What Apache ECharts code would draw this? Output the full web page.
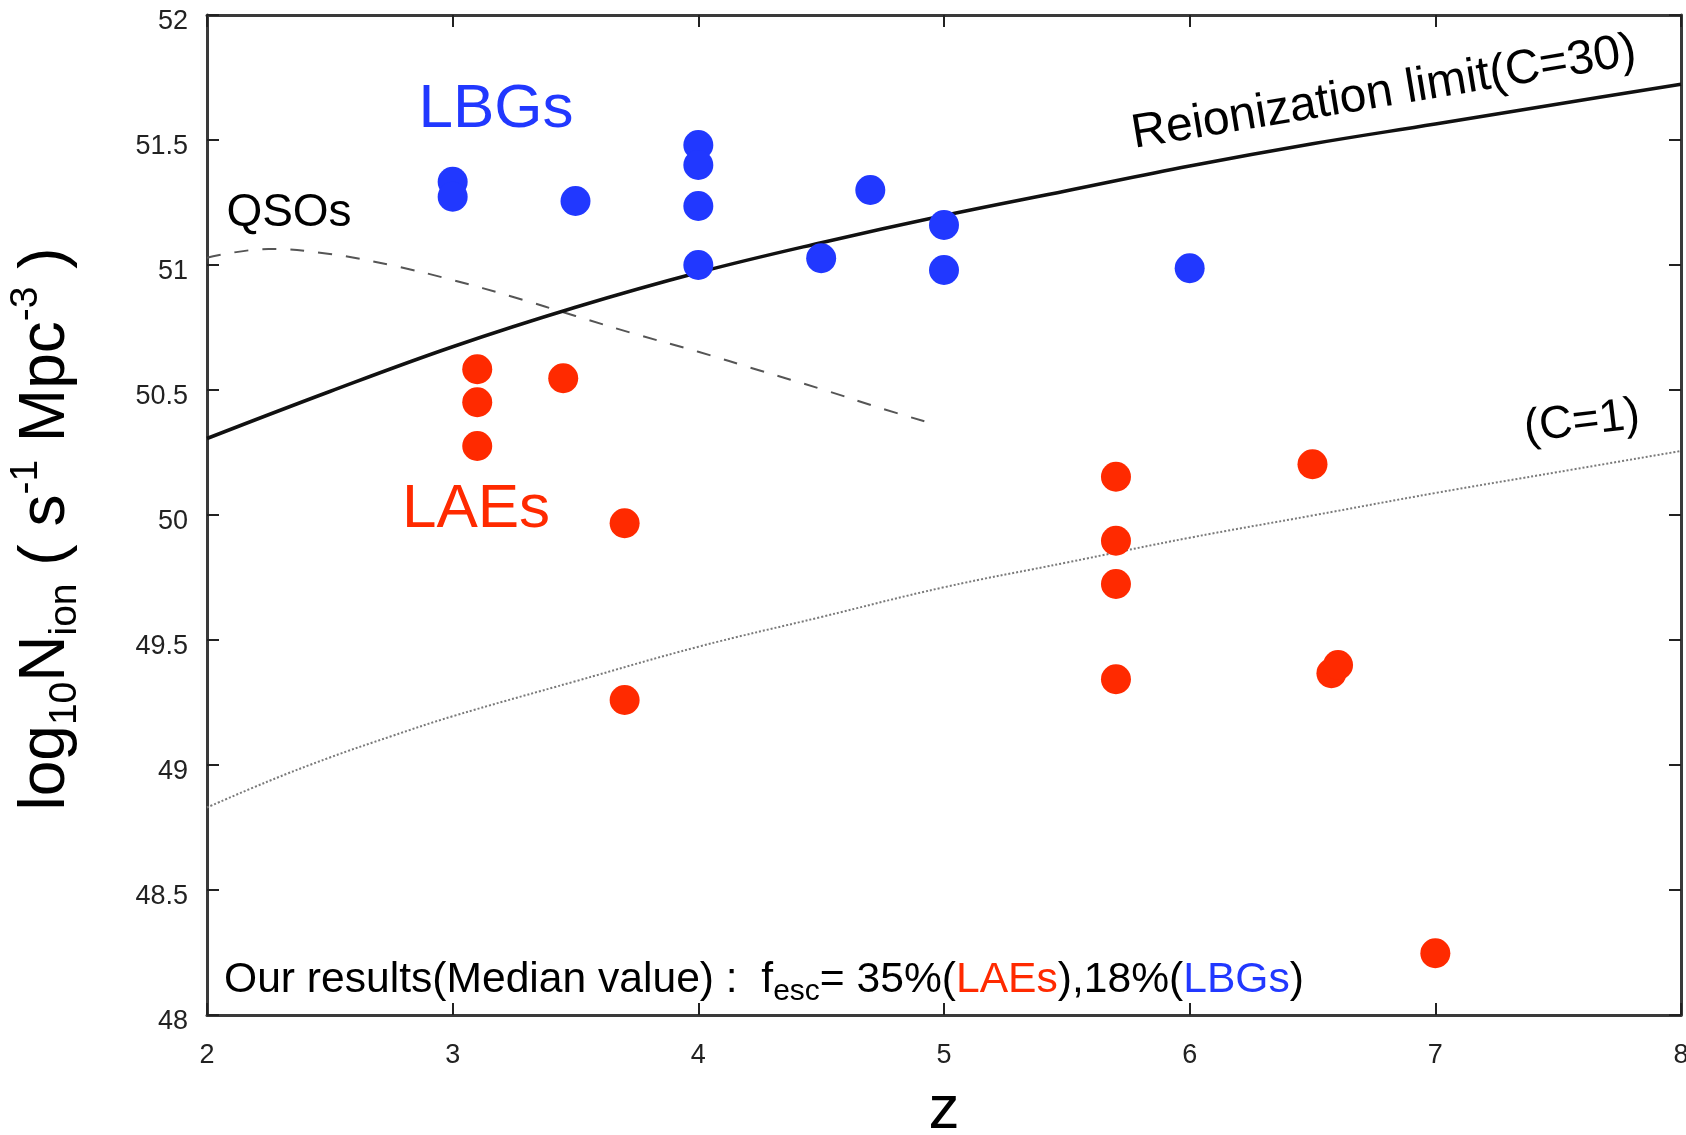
<!DOCTYPE html>
<html><head><meta charset="utf-8">
<script src="https://cdn.jsdelivr.net/npm/echarts@6/dist/echarts.min.js"></script>
<style>html,body{margin:0;padding:0;background:#fff}#c{width:1686px;height:1135px}</style>
</head><body><div id="c"></div>
<script>
// ---- data ----
const lbgZ = [3.0, 3.0, 3.5, 4.0, 4.0, 4.0, 4.0, 4.5, 4.7, 5.0, 5.0, 6.0];
const lbgV = [51.333, 51.273, 51.256, 51.48, 51.40, 51.236, 51.00, 51.027, 51.30, 51.16, 50.98, 50.987];
const laeZ = [3.1, 3.1, 3.1, 3.45, 3.7, 3.7, 5.7, 5.7, 5.7, 5.7, 6.5, 6.577, 6.604, 7.0];
const laeV = [50.583, 50.451, 50.276, 50.547, 49.967, 49.26, 50.153, 49.897, 49.724, 49.343, 50.203, 49.367, 49.40, 48.247];
const reionZ = [2, 2.5, 3, 3.5, 4, 4.5, 5, 5.5, 6, 6.5, 7, 7.5, 8];
const reionV = [50.306, 50.494, 50.673, 50.831, 50.97, 51.089, 51.198, 51.297, 51.396, 51.485, 51.564, 51.644, 51.723];
const qsoZ = [2, 2.25, 2.5, 2.75, 3, 3.25, 3.5, 3.75, 4, 4.25, 4.5, 4.75, 4.92];
const qsoV = [51.029, 51.064, 51.044, 50.999, 50.94, 50.871, 50.796, 50.722, 50.653, 50.578, 50.504, 50.425, 50.375];
const c1Z = [2, 2.25, 2.5, 2.75, 3, 3.5, 4, 4.5, 5, 5.5, 6, 6.5, 7, 7.5, 8];
const c1V = [48.83, 48.935, 49.03, 49.115, 49.195, 49.335, 49.473, 49.592, 49.711, 49.81, 49.909, 49.998, 50.088, 50.172, 50.256];
const xRange = [2, 8];
const yRange = [48, 52];
const xStep = 1;
const yStep = 0.5;

const zip = (a, b) => a.map((v, i) => [v, b[i]]);
const FONT = '"Liberation Sans", Arial, Helvetica, sans-serif';
const BLUE = '#2138FF';
const RED = '#FF2A00';

const axisCommon = {
  axisLine: { show: true, onZero: false, lineStyle: { color: '#3a3a3a', width: 3 } },
  axisTick: { show: true, inside: true, length: 12, lineStyle: { color: '#222', width: 2 } },
  splitLine: { show: false }
};

const chart = echarts.init(document.getElementById('c'), null, { renderer: 'canvas' });
chart.setOption({
  backgroundColor: '#fff',
  animation: false,
  grid: { left: 207, right: 5, top: 15, bottom: 120, containLabel: false, outerBoundsMode: 'none' },
  xAxis: [
    Object.assign({}, axisCommon, {
      type: 'value', position: 'bottom', min: xRange[0], max: xRange[1], interval: xStep,
      axisLabel: { color: '#222', fontSize: 27, fontFamily: FONT, margin: 27 },
      name: 'z', nameLocation: 'middle', nameGap: 65, nameMoveOverlap: false,
      nameTextStyle: { fontSize: 62, color: '#000', fontFamily: FONT }
    }),
    Object.assign({}, axisCommon, {
      type: 'value', position: 'top', min: xRange[0], max: xRange[1], interval: xStep,
      axisLabel: { show: false }
    })
  ],
  yAxis: [
    Object.assign({}, axisCommon, {
      type: 'value', position: 'left', min: yRange[0], max: yRange[1], interval: yStep,
      axisLabel: { color: '#222', fontSize: 27, fontFamily: FONT, margin: 19, verticalAlign: 'top', lineHeight: 14 },
      name: '{m|log}{sb|10}{m|N}{sb|ion}{m| ( s}{sp|-1}{m| Mpc}{sp|-3}{m| )}',
      nameLocation: 'middle', nameRotate: 90, nameGap: 122, nameMoveOverlap: false,
      nameTextStyle: {
        color: '#000', fontFamily: FONT, padding: [0, 28, 0, 0],
        rich: {
          m: { fontSize: 64, lineHeight: 78, fontFamily: FONT, color: '#000', verticalAlign: 'middle' },
          sb: { fontSize: 39, lineHeight: 39, fontFamily: FONT, color: '#000', verticalAlign: 'bottom' },
          sp: { fontSize: 39, lineHeight: 39, fontFamily: FONT, color: '#000', verticalAlign: 'top' }
        }
      }
    }),
    Object.assign({}, axisCommon, {
      type: 'value', position: 'right', min: yRange[0], max: yRange[1], interval: yStep,
      axisLabel: { show: false }
    })
  ],
  series: [
    {
      name: 'C=1', type: 'line', data: zip(c1Z, c1V), smooth: 0.4, showSymbol: false, silent: true,
      lineStyle: { color: '#7a7a7a', width: 2, type: [2, 2] }, z: 2
    },
    {
      name: 'QSOs', type: 'line', data: zip(qsoZ, qsoV), smooth: 0.4, showSymbol: false, silent: true,
      lineStyle: { color: '#555', width: 2, type: [14, 14] }, z: 2
    },
    {
      name: 'Reionization limit(C=30)', type: 'line', data: zip(reionZ, reionV), smooth: 0.4, showSymbol: false, silent: true,
      lineStyle: { color: '#111', width: 3.5 }, z: 3
    },
    {
      name: 'LBGs', type: 'scatter', data: zip(lbgZ, lbgV), symbol: 'circle', symbolSize: 30,
      itemStyle: { color: BLUE, opacity: 1 }, z: 4
    },
    {
      name: 'LAEs', type: 'scatter', data: zip(laeZ, laeV), symbol: 'circle', symbolSize: 30,
      itemStyle: { color: RED, opacity: 1 }, z: 4
    }
  ],
  graphic: [
    { type: 'text', x: 496, y: 110, z: 10, style: { text: 'LBGs', fill: BLUE, font: '62px ' + FONT, align: 'center', verticalAlign: 'middle' } },
    { type: 'text', x: 476, y: 510, z: 10, style: { text: 'LAEs', fill: RED, font: '62px ' + FONT, align: 'center', verticalAlign: 'middle' } },
    { type: 'text', x: 289, y: 213, z: 10, style: { text: 'QSOs', fill: '#000', font: '46px ' + FONT, align: 'center', verticalAlign: 'middle' } },
    { type: 'text', x: 1384, y: 93, rotation: 0.165, z: 10, style: { text: 'Reionization limit(C=30)', fill: '#000', font: '48px ' + FONT, align: 'center', verticalAlign: 'middle' } },
    { type: 'text', x: 1582, y: 422, rotation: 0.12, z: 10, style: { text: '(C=1)', fill: '#000', font: '46px ' + FONT, align: 'center', verticalAlign: 'middle' } },
    {
      type: 'text', x: 224, y: 980, z: 10,
      style: {
        text: '{a|Our results(Median value) :  f}{s|esc}{a|= 35%(}{r|LAEs}{a|),18%(}{b|LBGs}{a|)}',
        align: 'left', verticalAlign: 'middle',
        rich: {
          a: { fontSize: 42.6, lineHeight: 54, fontFamily: FONT, fill: '#000', verticalAlign: 'middle' },
          s: { fontSize: 30, lineHeight: 30, fontFamily: FONT, fill: '#000', verticalAlign: 'bottom' },
          r: { fontSize: 42.6, lineHeight: 54, fontFamily: FONT, fill: RED, verticalAlign: 'middle' },
          b: { fontSize: 42.6, lineHeight: 54, fontFamily: FONT, fill: BLUE, verticalAlign: 'middle' }
        }
      }
    }
  ]
});
</script>
</body></html>
